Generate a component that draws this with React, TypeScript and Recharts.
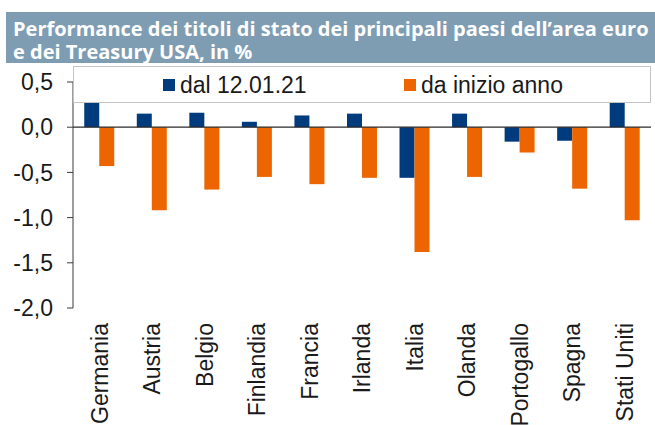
import React from 'react'
import { BarChart, Bar, XAxis, YAxis, ReferenceLine } from 'recharts'

// #region Data
const countries = [
  'Germania', 'Austria', 'Belgio', 'Finlandia', 'Francia', 'Irlanda',
  'Italia', 'Olanda', 'Portogallo', 'Spagna', 'Stati Uniti',
]
const sinceJan12 = [0.3, 0.15, 0.16, 0.06, 0.13, 0.15, -0.56, 0.15, -0.16, -0.15, 0.3]
const yearToDate = [-0.43, -0.92, -0.69, -0.55, -0.63, -0.56, -1.38, -0.55, -0.28, -0.68, -1.03]
const yTicks = [0.5, 0, -0.5, -1, -1.5, -2]
const titleLines = [
  'Performance dei titoli di stato dei principali paesi dell\u2019area euro',
  'e dei Treasury USA, in %',
]
const seriesNames = ['dal 12.01.21', 'da inizio anno']

const data = countries.map((name, i) => ({
  name,
  a: sinceJan12[i],
  b: yearToDate[i],
}))

const BLUE = '#003b7d'
const ORANGE = '#ec6500'
const COLORS = [BLUE, ORANGE]
const FONT = '"Liberation Sans", Arial, sans-serif'
const FS = 23

const fmt = (v: number) => v.toFixed(1).replace('.', ',')

const YTick = ({ x, y, payload }: any) => (
  <text x={x} y={y} textAnchor="end" dy="0.36em" fontSize={FS} fontFamily={FONT} fill="#1a1a1a">
    {fmt(payload.value)}
  </text>
)

const XTick = ({ x, y, payload }: any) => (
  <text
    transform={`translate(${x},${y}) rotate(-90)`}
    textAnchor="end"
    dy="0.36em"
    fontSize={FS}
    fontFamily={FONT}
    fill="#1a1a1a"
  >
    {payload.value}
  </text>
)

export default function App() {
  return (
    <div style={{ position: 'absolute', left: 0, top: 0, width: 655, height: 425, background: '#fff', overflow: 'hidden' }}>
      <div style={{ position: 'absolute', left: 6, top: 12, width: 649, height: 51, background: '#7e9db3' }} />
      {titleLines.map((t, i) => (
        <div
          key={t}
          style={{
            position: 'absolute',
            left: 13,
            top: 19 + i * 22.7,
            fontFamily: '"Open Sans", sans-serif',
            fontWeight: 700,
            fontSize: 20,
            lineHeight: '20px',
            color: '#fff',
            whiteSpace: 'nowrap',
          }}
        >
          {t}
        </div>
      ))}
      <div style={{ position: 'absolute', left: 0, top: 0 }}>
        <BarChart
          width={655}
          height={425}
          data={data}
          margin={{ top: 82, right: 4, bottom: 0, left: 0 }}
          barCategoryGap="21.4%"
          barGap={0}
        >
          <XAxis
            dataKey="name"
            axisLine={false}
            tickLine={false}
            tickSize={0}
            tickMargin={15}
            height={117}
            interval={0}
            tick={<XTick />}
          />
          <YAxis
            domain={[-2, 0.5]}
            ticks={yTicks}
            width={73}
            tickSize={6}
            tickMargin={14}
            stroke="#3a3a3a"
            tick={<YTick />}
            interval={0}
          />
          <ReferenceLine y={0} stroke="#2a2a2a" strokeWidth={1.2} />
          <Bar dataKey="a" name={seriesNames[0]} fill={BLUE} isAnimationActive={false} />
          <Bar dataKey="b" name={seriesNames[1]} fill={ORANGE} isAnimationActive={false} />
        </BarChart>
      </div>
      {/* legend box drawn over the top of the plot, as in the reference */}
      <div
        style={{
          position: 'absolute',
          left: 73,
          top: 66,
          width: 578,
          height: 37,
          boxSizing: 'border-box',
          border: '1px solid #c4c4c4',
          background: '#fff',
          fontFamily: FONT,
          fontSize: FS,
          color: '#1a1a1a',
        }}
      >
        {seriesNames.map((name, i) => (
          <div
            key={name}
            style={{
              position: 'absolute',
              left: i === 0 ? 89 : 330,
              top: 6,
              height: 24,
              display: 'flex',
              alignItems: 'center',
              lineHeight: '24px',
              whiteSpace: 'nowrap',
            }}
          >
            <span style={{ display: 'inline-block', width: 12, height: 12, background: COLORS[i], marginRight: 5 }} />
            {name}
          </div>
        ))}
      </div>
    </div>
  )
}
